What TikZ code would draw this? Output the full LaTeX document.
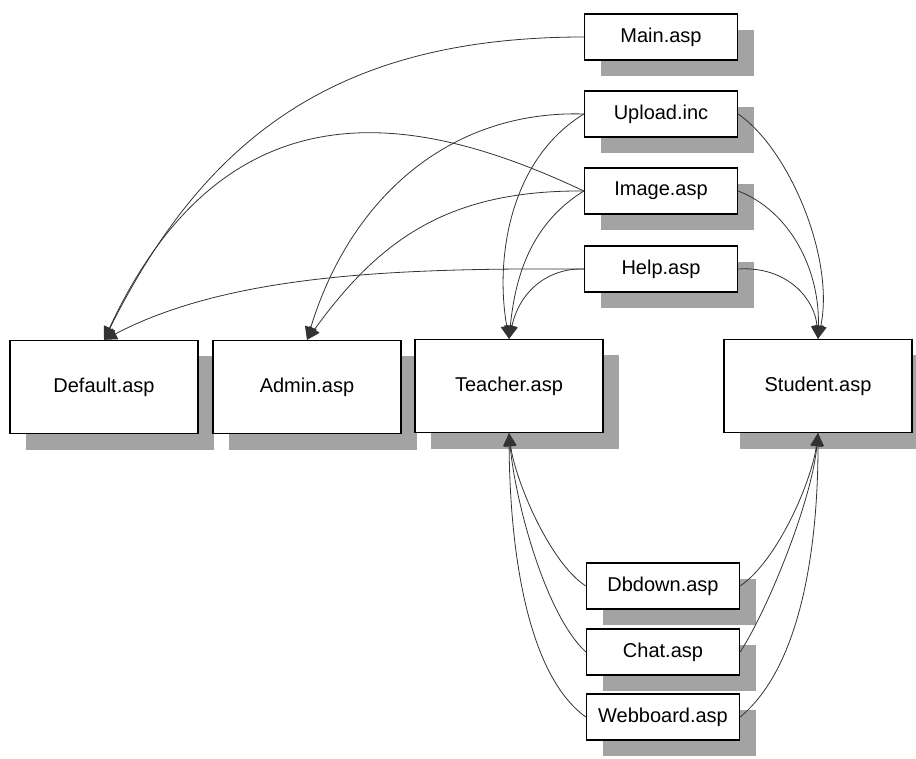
\documentclass[tikz,border=0pt]{standalone}
\usepackage{fontspec}
\setmainfont{Liberation Sans}
\usetikzlibrary{arrows.meta,shadows}

\begin{document}
\begin{tikzpicture}[x=1pt,y=-1pt,
  page/.style={draw=black, line width=1.3pt, fill=white, inner sep=0pt,
    font=\fontsize{20}{24}\selectfont,
    drop shadow={shadow xshift=16pt, shadow yshift=-16pt, fill=black!36, opacity=1}},
  small/.style={page, minimum width=153pt, minimum height=46pt},
  big/.style={page, minimum width=188pt, minimum height=93pt},
  link/.style={line width=0.8pt, draw=black!80,
    -{Triangle[length=13pt,width=12pt]}}
]
\useasboundingbox (0,0) rectangle (916,759);
\clip (0,0) rectangle (916,759);

% included pages (top column)
\node[small] (main)   at (661,37)  {Main.asp};
\node[small] (upload) at (661,114) {Upload.inc};
\node[small] (image)  at (661,191) {Image.asp};
\node[small] (help)   at (661,269) {Help.asp};

% main pages
\node[big] (dflt)    at (104,387) {Default.asp};
\node[big] (admin)   at (307,387) {Admin.asp};
\node[big] (teacher) at (509,386) {Teacher.asp};
\node[big] (student) at (818,386) {Student.asp};

% shared pages (bottom column)
\node[small] (dbdown) at (663,586) {Dbdown.asp};
\node[small] (chat)   at (663,652) {Chat.asp};
\node[small] (webb)   at (663,717) {Webboard.asp};

% links into Default.asp
\draw[link] (main.west)  .. controls +(-250,0) and +(100,-200) .. (dflt.north);
\draw[link] (image.west) .. controls +(-155,-73) and +(126,-271) .. (dflt.north);
\draw[link] (help.west)  .. controls +(-185,-1) and +(126,-66) .. (dflt.north);

% links into Admin.asp
\draw[link] (upload.west) .. controls +(-135,-4) and +(43,-141) .. (admin.north);
\draw[link] (image.west)  .. controls +(-135,-1) and +(73,-101) .. (admin.north);

% links into Teacher.asp (top)
\draw[link] (upload.west) .. controls +(-75,46) and +(-14,-79) .. (teacher.north);
\draw[link] (image.west)  .. controls +(-55,34) and +(6,-59) .. (teacher.north);
\draw[link] (help.west)   .. controls +(-35,-1) and +(11,-49) .. (teacher.north);

% links into Student.asp (top)
\draw[link] (upload.east) .. controls +(52,36) and +(17,-79) .. (student.north);
\draw[link] (image.east)  .. controls +(52,20) and +(2,-69) .. (student.north);
\draw[link] (help.east)   .. controls +(50,-3) and +(-3,-39) .. (student.north);

% links into Teacher.asp (bottom)
\draw[link] (dbdown.west) .. controls +(-36,-23) and +(6,47) .. (teacher.south);
\draw[link] (chat.west)   .. controls +(-41,-38) and +(6,67) .. (teacher.south);
\draw[link] (webb.west)   .. controls +(-56,-40) and +(1,127) .. (teacher.south);

% links into Student.asp (bottom)
\draw[link] (dbdown.east) .. controls +(38,-26) and +(-6,47) .. (student.south);
\draw[link] (chat.east)   .. controls +(28,-43) and +(-6,67) .. (student.south);
\draw[link] (webb.east)   .. controls +(63,-52) and +(0,107) .. (student.south);
\end{tikzpicture}
\end{document}
